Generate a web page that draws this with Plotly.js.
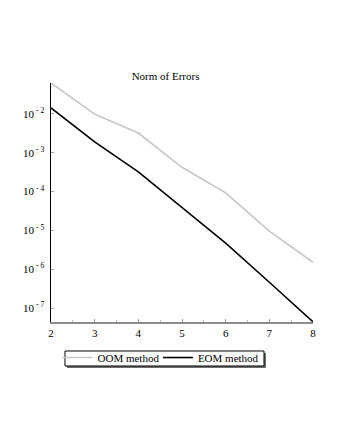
<!DOCTYPE html>
<html>
<head>
<meta charset="utf-8">
<script src="https://cdn.plot.ly/plotly-3.0.1.min.js"></script>
<style>
  html, body { margin: 0; padding: 0; background: #fff; }
  #errPlot { width: 340px; height: 440px; }
</style>
</head>
<body>
<div id="errPlot"></div>
<script>
// order of the method
const order = [2, 3, 4, 5, 6, 7, 8];
// norm of errors
const oomErrors = [0.062, 0.0098, 0.0032, 4.2e-4, 9.2e-5, 9.5e-6, 1.5e-6];
const eomErrors = [0.0142, 0.0019, 3.2e-4, 3.9e-5, 4.7e-6, 4.6e-7, 4.4e-8];
const seriesNames = ['OOM method', 'EOM method'];
const yTickVals = [1e-7, 1e-6, 1e-5, 1e-4, 1e-3, 1e-2];
const yTickText = ['10<sup> - 7</sup>', '10<sup> - 6</sup>', '10<sup> - 5</sup>',
                   '10<sup> - 4</sup>', '10<sup> - 3</sup>', '10<sup> - 2</sup>'];

const serif = '"Liberation Serif", "Times New Roman", serif';

const traceOom = {
    type: 'scatter',
    mode: 'lines',
    x: order,
    y: oomErrors,
    name: seriesNames[0],
    legend: 'legend',
    line: { color: '#c6c6c6', width: 1.6 },
};
const traceEom = {
    type: 'scatter',
    mode: 'lines',
    x: order,
    y: eomErrors,
    name: seriesNames[1],
    legend: 'legend2',
    line: { color: '#000', width: 1.6 },
};

// legend frame with drop shadow (plotly's own legend box is too tall)
const legendBox = { x0: 0.0534, x1: 0.813, y0: -0.1841, y1: -0.1213 };
const shadowOff = { x: 2 / 262, y: 2 / 239 };

const legendStyle = {
    orientation: 'h',
    xanchor: 'left',
    y: -0.088,
    yanchor: 'top',
    borderwidth: 0,
    bgcolor: 'rgba(0,0,0,0)',
    font: { family: serif, size: 11, color: '#000' },
};

const layout = {
    width: 340,
    height: 440,
    margin: { l: 51, r: 27, t: 83, b: 118 },
    paper_bgcolor: '#fff',
    plot_bgcolor: '#fff',
    font: { family: serif, size: 11, color: '#000' },
    title: {
        text: 'Norm of Errors',
        font: { family: serif, size: 11, color: '#000' },
        xref: 'container',
        x: 0.487,
        xanchor: 'center',
        yref: 'container',
        y: 0.828,
        yanchor: 'middle',
    },
    xaxis: {
        range: [2, 8],
        dtick: 1,
        showgrid: false,
        zeroline: false,
        showline: true,
        linecolor: '#8c8c8c',
        linewidth: 2,
        ticks: 'inside',
        ticklen: 3,
        tickcolor: '#999',
        minor: { ticks: 'inside', ticklen: 2, tickcolor: '#bbb', dtick: 0.5 },
        tickfont: { family: serif, size: 11, color: '#000' },
    },
    yaxis: {
        type: 'log',
        range: [-7.36, -1.207],
        tickvals: yTickVals,
        ticktext: yTickText,
        showgrid: false,
        zeroline: false,
        showline: true,
        linecolor: '#000',
        linewidth: 1.5,
        ticks: 'inside',
        ticklen: 3,
        tickcolor: '#aaa',
        ticklabelstandoff: 3,
        tickfont: { family: serif, size: 11, color: '#000' },
    },
    shapes: [
        {
            type: 'rect', xref: 'paper', yref: 'paper', layer: 'above',
            x0: legendBox.x0 + shadowOff.x, x1: legendBox.x1 + shadowOff.x,
            y0: legendBox.y0 - shadowOff.y, y1: legendBox.y1 - shadowOff.y,
            fillcolor: '#6e6e6e', line: { width: 0 },
        },
        {
            type: 'rect', xref: 'paper', yref: 'paper', layer: 'above',
            x0: legendBox.x0, x1: legendBox.x1, y0: legendBox.y0, y1: legendBox.y1,
            fillcolor: '#fff', line: { color: '#000', width: 1 },
        },
    ],
    showlegend: true,
    legend: { ...legendStyle, x: 0.0248 },
    legend2: { ...legendStyle, x: 0.408 },
};

Plotly.newPlot('errPlot', [traceOom, traceEom], layout, { staticPlot: true });
</script>
</body>
</html>
